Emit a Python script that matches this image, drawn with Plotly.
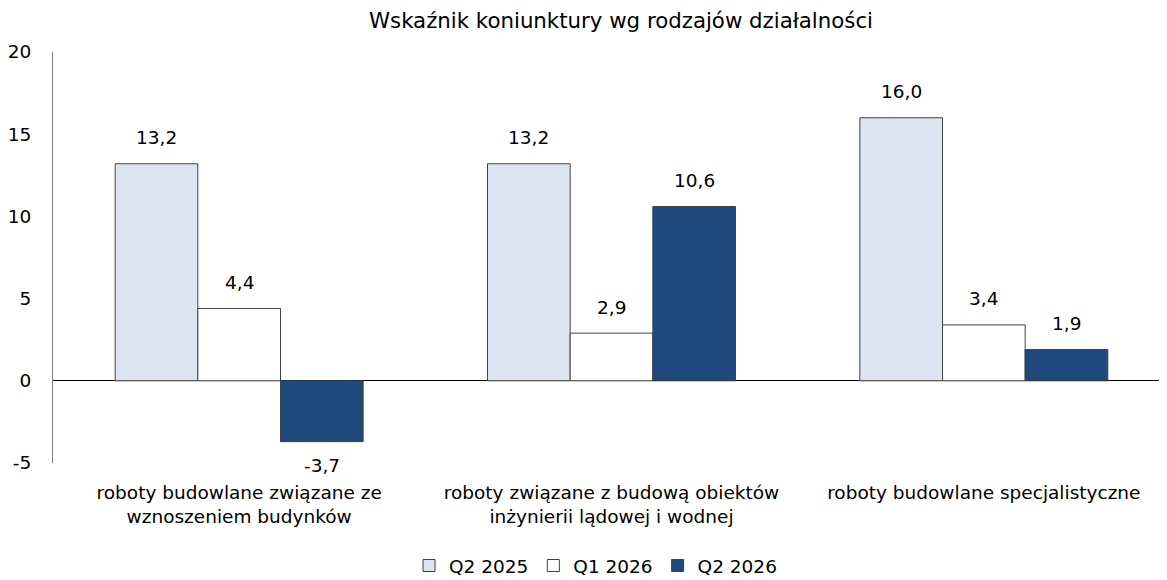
import plotly.graph_objects as go

categories = ["roboty budowlane związane ze<br>wznoszeniem budynków",
              "roboty związane z budową obiektów<br>inżynierii lądowej i wodnej",
              "roboty budowlane specjalistyczne"]
series_names = ["Q2 2025", "Q1 2026", "Q2 2026"]
q2_2025 = [13.2, 13.2, 16.0]
q1_2026 = [4.4, 2.9, 3.4]
q2_2026 = [-3.7, 10.6, 1.9]
y_ticks = [-5, 0, 5, 10, 15, 20]

colors = ["#DCE6F2", "#FFFFFF", "#1F497D"]
FONT = "DejaVu Sans"
FS = 18.5
bargap = 0.334
xs = list(range(len(categories)))

fig = go.Figure()
annotations = []
bw = (1 - bargap) / 3
for j, (name, vals, col) in enumerate(zip(series_names, [q2_2025, q1_2026, q2_2026], colors)):
    fig.add_trace(go.Bar(x=xs, y=vals, name=name, marker=dict(color=col, line=dict(color="#404040", width=1)),
                         hoverinfo="y"))
    for i, v in enumerate(vals):
        annotations.append(dict(x=i + (j - 1) * bw, y=v, xref="x", yref="y", yanchor="middle",
                                text=f"{v:.1f}".replace(".", ","), showarrow=False,
                                yshift=26 if v >= 0 else -24,
                                font=dict(family=FONT, size=FS, color="#000000")))

annotations.append(dict(x=0.5085, y=1.0, xref="paper", yref="paper", yanchor="middle", yshift=32,
                        text="Wskaźnik koniunktury wg rodzajów działalności", showarrow=False,
                        font=dict(family=FONT, size=21.3, color="#000000")))

fig.update_layout(
    width=1172, height=572,
    margin=dict(l=45, r=10, t=44, b=117, autoexpand=False),
    paper_bgcolor="white", plot_bgcolor="white",
    barmode="group", bargap=bargap, bargroupgap=0,
    font=dict(family=FONT, size=FS, color="#000000"),
    annotations=annotations,
    legend=dict(orientation="h", x=0.4857, xanchor="center", y=0.0245, yanchor="middle", yref="container",
                font=dict(family=FONT, size=FS), traceorder="normal", itemwidth=30),
    showlegend=True,
)
fig.update_xaxes(tickvals=xs, ticktext=categories, range=[-0.5, 2.5], showgrid=False, showline=False,
                 ticks="", ticklabelstandoff=16, tickfont=dict(size=FS), automargin=False)
fig.update_yaxes(range=[-5, 20], tickvals=y_ticks, ticktext=[str(t) for t in y_ticks],
                 showgrid=False, showline=True, linecolor="#808080",
                 linewidth=1, zeroline=True, zerolinecolor="#000000", zerolinewidth=1,
                 ticks="", ticklabelstandoff=17, tickfont=dict(size=FS), automargin=False)

fig.write_html("out.html")
